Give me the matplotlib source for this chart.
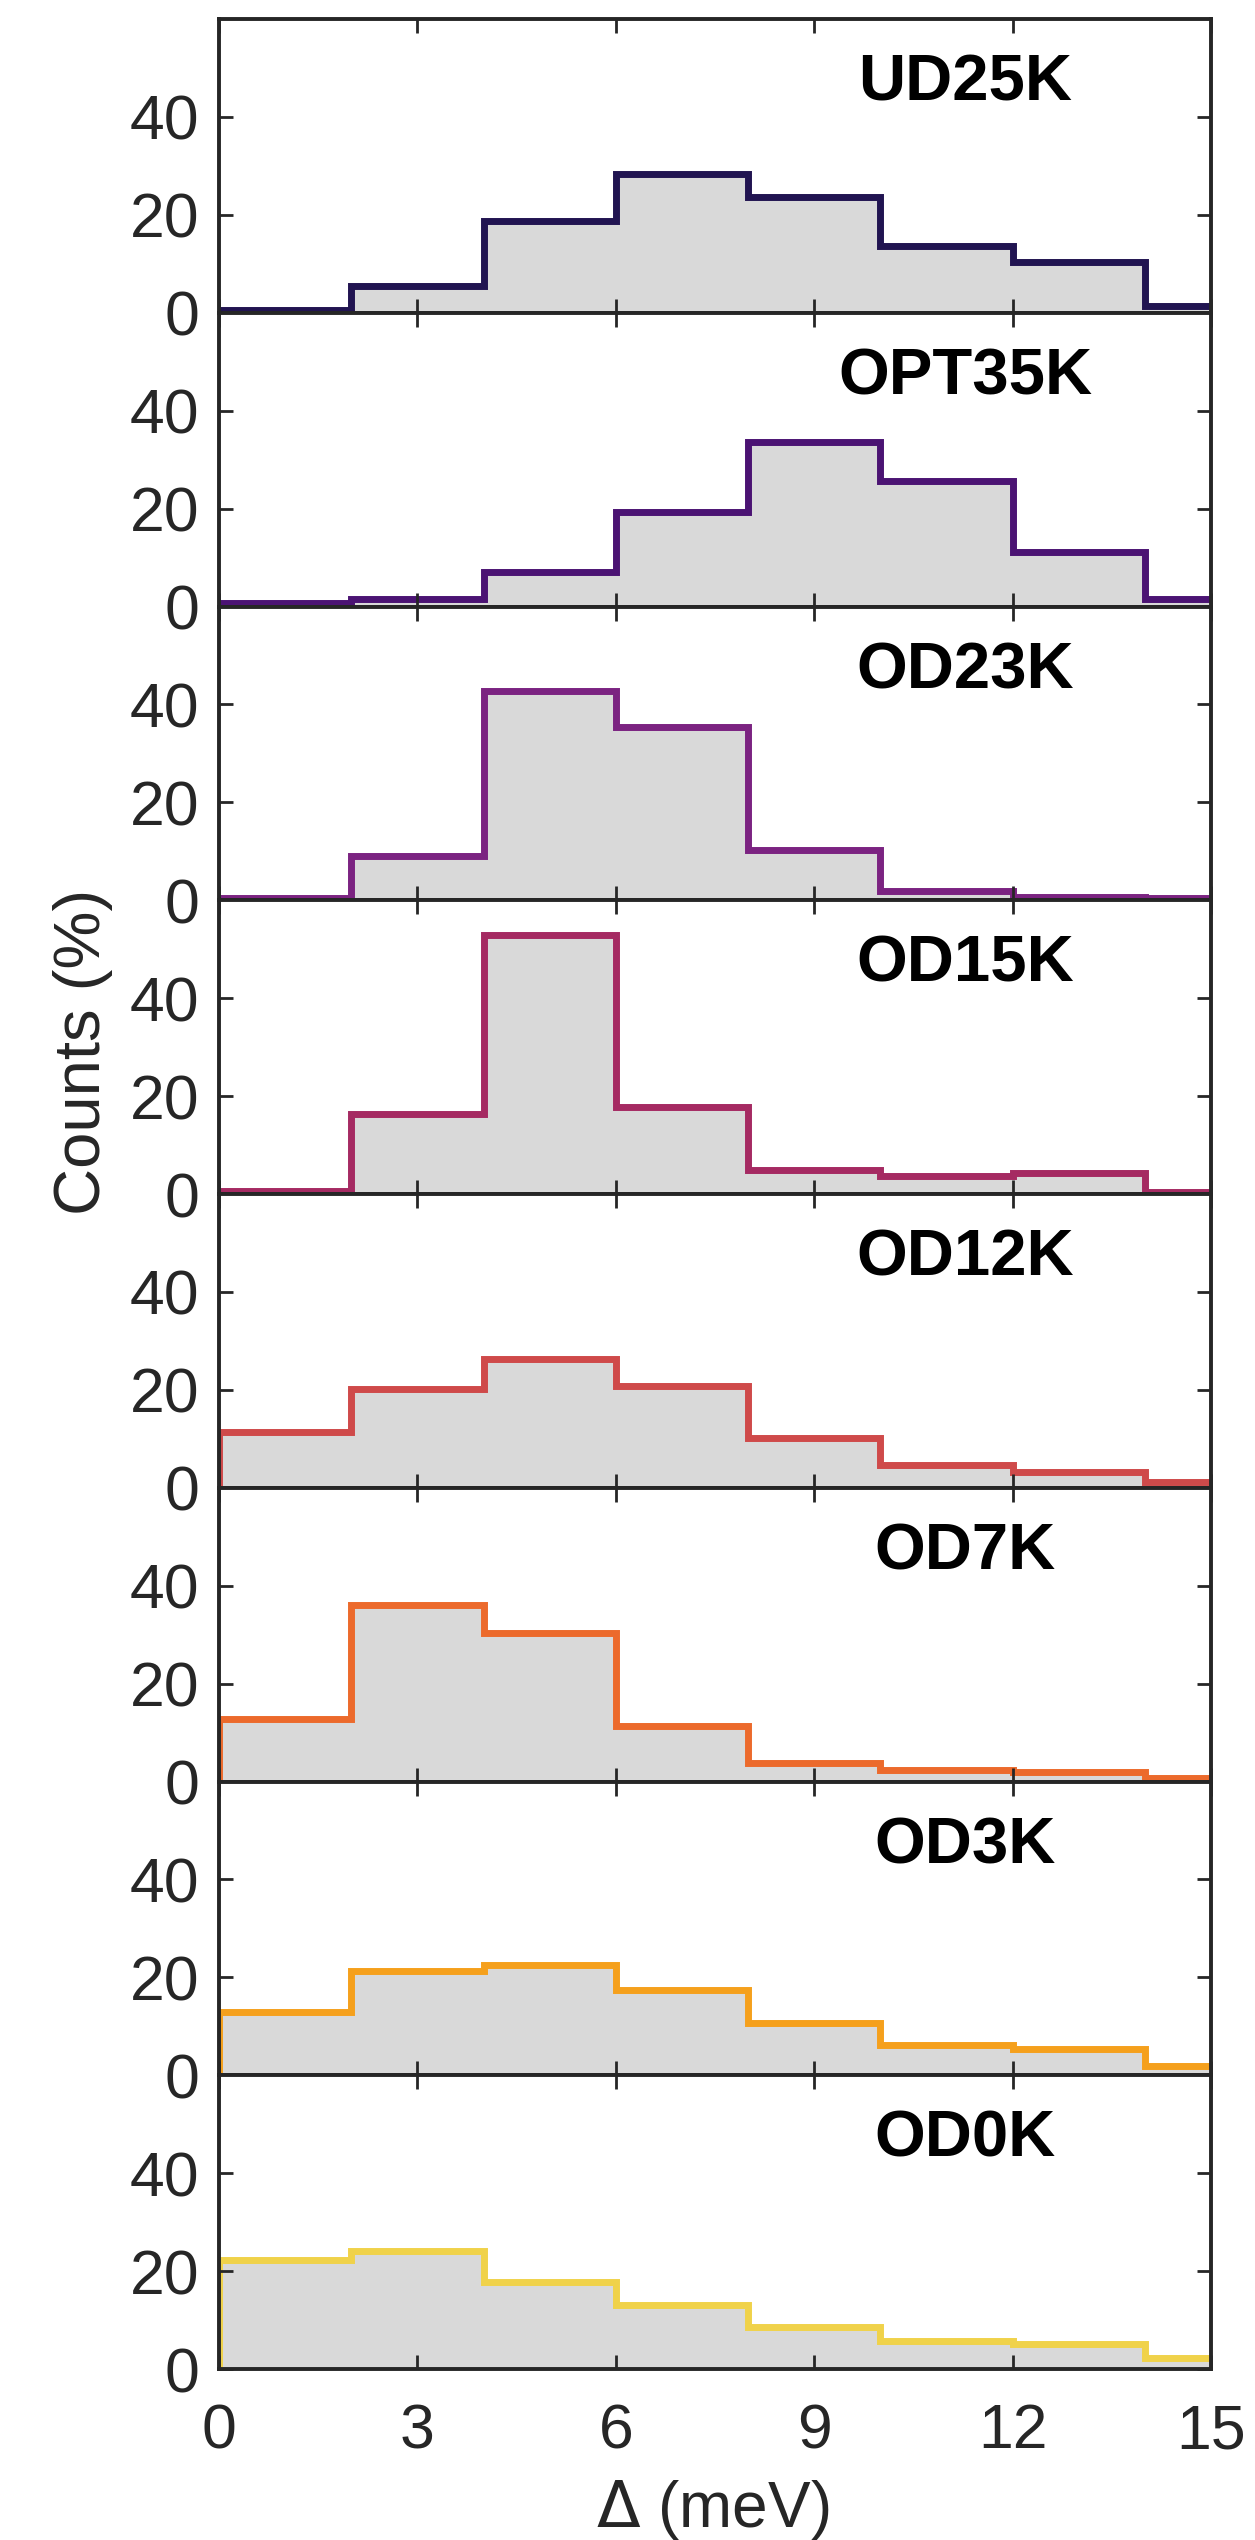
import numpy as np
import matplotlib.pyplot as plt

plt.rcParams['font.family'] = ['Liberation Sans', 'DejaVu Sans']

# bin edges (meV); last bin is clipped by the x limit
edges = np.arange(0, 17, 2)

labels = ['UD25K', 'OPT35K', 'OD23K', 'OD15K', 'OD12K', 'OD7K', 'OD3K', 'OD0K']
colors = ['#211451', '#4b1373', '#7b2381', '#a52a62', '#cf4a4a', '#ec6a2c', '#f5a01c', '#f0d24a']

ud25 = [0.5, 5.4, 18.7, 28.4, 23.7, 13.7, 10.3, 1.3]
opt35 = [0.8, 1.6, 7.0, 19.4, 33.7, 25.6, 11.2, 1.6]
od23 = [0.5, 9.0, 42.8, 35.5, 10.3, 1.8, 0.6, 0.5]
od15 = [0.6, 16.3, 53.0, 17.7, 5.0, 3.6, 4.2, 0.5]
od12 = [11.4, 20.2, 26.3, 20.8, 10.2, 4.6, 3.3, 1.2]
od7 = [12.8, 36.0, 30.3, 11.4, 3.8, 2.4, 1.9, 0.8]
od3 = [13.0, 21.3, 22.6, 17.4, 10.6, 6.2, 5.3, 2.0]
od0 = [22.2, 24.2, 17.8, 13.0, 8.6, 5.8, 5.1, 2.2]
series = [ud25, opt35, od23, od15, od12, od7, od3, od0]

fig, axes = plt.subplots(8, 1, figsize=(12.55, 25.4), dpi=100, sharex=True)
fig.subplots_adjust(left=0.1745, right=0.965, top=0.9925, bottom=0.0673, hspace=0)

dark = '#262626'
for ax, vals, lab, c in zip(axes, series, labels, colors):
    ax.stairs(vals, edges, fill=True, color='#d9d9d9', baseline=0)
    ax.stairs(vals, edges, color=c, linewidth=5, baseline=0)
    ax.set_xlim(0, 15)
    ax.set_ylim(0, 60)
    ax.set_yticks([0, 20, 40])
    ax.set_xticks([0, 3, 6, 9, 12, 15])
    ax.tick_params(direction='in', top=True, right=True, length=10, width=2,
                   labelsize=45, colors=dark, labelcolor=dark)
    ax.tick_params(axis='y', pad=14)
    ax.tick_params(axis='x', pad=24)
    for s in ax.spines.values():
        s.set_linewidth(2.8)
        s.set_color(dark)
    ax.text(0.752, 0.78, lab, transform=ax.transAxes, ha='center', va='center',
            fontsize=47, fontweight='bold', color='black')

fig.text(0.066, 0.586, 'Counts (%)', rotation=90, ha='center', va='center',
         fontsize=47, color=dark)
fig.text(0.568, 0.012, r'$\Delta$ (meV)', ha='center', va='center',
         fontsize=46, color=dark)

fig.savefig('out.png', dpi=100)
